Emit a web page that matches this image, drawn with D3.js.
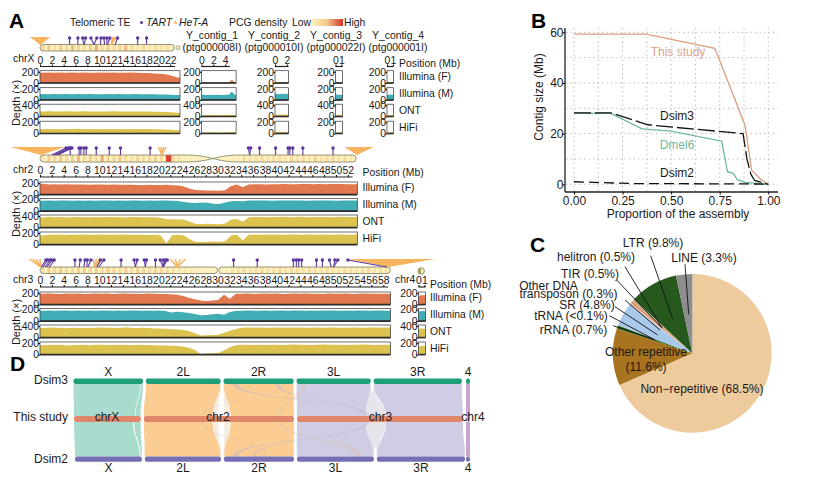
<!DOCTYPE html>
<html><head><meta charset="utf-8">
<script src="https://cdn.jsdelivr.net/npm/d3@7/dist/d3.min.js"></script>
<style>
html,body{margin:0;padding:0;background:#fff}
svg{display:block}
text{font-family:"Liberation Sans",Arial,sans-serif;fill:#1a1a1a}
.domain{stroke:#222}
</style></head><body><div id="c"></div>
<script>
// ---------- DATA ----------
const positionTicksX = d3.range(0, 23, 2);
const positionTicks2 = d3.range(0, 53, 2);
const positionTicks3 = d3.range(0, 59, 2);
const contigNames = ["Y_contig_1","Y_contig_2","Y_contig_3","Y_contig_4"];
const contigIds = ["(ptg000008I)","(ptg000010I)","(ptg000022I)","(ptg000001I)"];
const contigLengths = [5.85, 2.3, 1.2, 1.1];
const contigTicks = [[0,2,4],[0,2],[0,1],[0,1]];
const trackNames = ["Illumina (F)","Illumina (M)","ONT","HiFi"];

const xF = [185,188,184,186,183,187,184,186,185,182,186,184,187,183,185,186,184,181,178,172,165,158,135,100];
const xM = [106,104,107,105,106,104,107,105,106,104,105,107,104,106,105,104,106,103,104,102,100,98,95,88];
const xO = [180,184,178,182,186,180,178,184,182,179,183,180,186,178,181,183,180,178,176,172,170,165,150,135];
const xH = [78,82,80,76,81,79,83,77,80,82,78,81,79,80,77,82,79,78,80,76,75,72,66,60];

const c2F = [190,178,182,176,180,178,175,178,174,176,178,172,176,174,170,172,168,165,170,166,168,170,165,160,140,100,80,75,72,70,68,75,150,175,130,178,180,182,178,180,182,184,180,182,185,183,181,184,182,183,185,184,182,180];
const c2M = [180,184,181,186,183,180,184,182,185,181,183,186,182,184,180,183,185,181,184,182,186,183,180,178,160,145,140,150,145,130,125,150,170,178,170,184,186,183,185,182,186,184,187,183,185,182,186,184,183,185,182,186,184,183];
const c2O = [350,375,360,370,355,368,372,358,365,374,360,368,362,372,356,366,370,360,365,358,340,290,295,280,285,200,130,125,135,130,120,140,280,300,210,350,368,372,360,374,366,378,362,370,376,364,372,368,374,362,370,376,368,372];
const c2H = [160,178,170,175,168,176,172,178,170,174,176,170,178,172,175,170,174,172,168,170,165,20,165,170,160,90,50,45,50,52,48,60,160,175,70,172,178,174,176,172,178,174,176,178,172,176,178,174,176,172,178,176,174,176];

const c3F = [188,192,190,186,192,189,193,187,190,194,188,192,186,190,193,188,191,187,192,189,186,184,180,170,150,120,95,70,65,70,80,170,100,190,188,192,186,190,193,188,192,187,190,194,188,192,189,191,187,193,190,188,192,186,190,193,188,191,189,190];
const c3M = [180,184,181,186,183,180,184,182,185,181,183,186,182,184,180,183,185,181,184,182,183,176,150,165,155,140,125,100,105,120,130,110,160,178,182,186,183,180,185,182,186,184,181,183,186,182,185,180,184,186,183,181,185,182,186,184,181,185,183,182];
const c3O = [335,350,340,345,330,342,338,348,332,344,352,340,346,336,350,342,338,345,335,322,320,310,295,280,265,230,150,70,80,90,100,170,240,300,340,350,345,352,340,348,355,342,350,346,352,340,348,354,344,350,356,342,348,352,346,340,350,354,346,350];
const c3H = [165,172,168,170,160,168,166,172,164,170,174,166,172,168,170,165,172,168,166,164,160,158,155,150,135,120,80,10,20,25,30,70,130,165,170,174,168,172,166,174,170,168,172,176,170,174,168,172,176,170,174,172,168,174,170,176,172,168,174,172];

const c4F = [160,165,162]; const c4M = [172,175,170]; const c4O = [310,320,305]; const c4H = [150,155,148];
const y1F = [8,10,9,8,10,9,8,9,10,8,60,9]; const y1M = [95,90,88,92,90,94,88,90,92,95,150,92];
const y1O = [55,48,60,52,50,58,48,55,60,50,64,52]; const y1H = [22,24,20,26,22,24,20,22,26,24,30,22];
const y2F = [12,10,11,12,10]; const y2M = [110,105,112,108,110]; const y2O = [60,70,62,68,60]; const y2H = [24,30,26,28,24];
const y3F = [14,16,12]; const y3M = [100,95,90]; const y3O = [50,60,46]; const y3H = [18,22,20];
const y4F = [12,14,10]; const y4M = [95,100,92]; const y4O = [48,52,50]; const y4H = [16,20,18];

const densX = [.35,.5,.25,.45,.3,.55,.4,.3,.5,.6,.35,.45,.3,.4,.55,.3,.2,.35,.15,.3,.2,.25,.1,.05];
const dens2 = [.2,.45,.35,.5,.3,.4,.55,.35,.45,.3,.6,.4,.35,.5,.3,.25,.4,.3,.35,.4,.3,.95,.3,.2,.1,.05,0,0,0,0,0,0,.05,.1,.3,.2,.25,.35,.2,.3,.25,.2,.35,.25,.3,.2,.4,.25,.3,.35,.25,.3,.2,.15];
const dens3 = [.3,.45,.4,.5,.35,.3,.45,.5,.35,.4,.3,.45,.35,.3,.4,.3,.45,.35,.3,.4,.35,.3,.25,.2,.15,.1,.05,0,0,0,0,.05,.2,.25,.3,.2,.25,.3,.2,.25,.35,.2,.3,.25,.2,.3,.25,.2,.3,.25,.2,.3,.25,.2,.25,.3,.2,.25,.2,.1];

// TART: marker position (Mb) and genomic anchor (Mb)
const tartXMark = [5,6.4,7.2,7.7,8.6,9.6,10.3,10.8,11.3,11.8,13.1,16.5,18];
const tartXPos  = [5,6.4,7.4,7.5,9.1,9.1,10.2,10.9,11.3,11.4,12.7,16.5,18];
const tart2Mark = [4.4,4.8,5.1,5.4,5.1,6.6,6.9,7.4,7.8,9.5,11.7,13.6,18.6,35.2,35.6,37.1,39.8,41.9,42.2,42.7,44.4,49.5];
const tart2Pos  = [2,2.4,2.7,3.0,5.1,6.6,6.9,7.4,7.8,9.5,11.7,13.6,18.6,35.4,35.4,37.1,39.8,41.9,42.2,42.7,44.4,49.5];
const tart3Mark = [1,1.3,1.7,2,2.4,5.9,6.8,7.6,8,8.6,10.2,10.8,13.7,15.9,16.4,17.6,18,19.5,20.3,20.8,21.2,21.5,32.7,36.7,42.8,43.3,43.7,44.2,46.7,47.7,48.9,49.8,50.3,52];
const tart3Pos  = [.2,.5,.9,1.2,1.6,5.9,6.6,7.4,7.9,8.1,9.6,9.9,13.7,16.1,16.1,17.8,17.8,19.5,20.8,20.8,20.8,20.8,32.7,36.7,42.8,43.3,43.7,44.2,46.7,47.7,49.2,49.6,49.6,58.6];
// HeT-A fans: low marker, high marker, genomic anchor (Mb)
const hetaX = [[-1.7,1.7,.1],[12.3,12.9,12]];
const heta2 = [[-5,4.2,.2],[20,21.3,20.6],[51.4,56.4,53.5]];
const heta3 = [[-1.8,0,.1],[9,10.6,9.2],[22,24.6,23.2],[52,66.8,58.9]];

// B
const studyX = [0,.37,.725,.88,.914,.965,1]; const studyY = [59.3,59.3,53.7,23.4,5.6,1.7,0];
const dmelX = [0,.19,.35,.5,.76,.79,.82,.84,.88,1]; const dmelY = [28,28,21.9,21,17,5,4.3,1.8,.8,0];
const dsim3X = [0,.19,.38,.87,.89,.91,.93,1]; const dsim3Y = [28.2,28.2,23.5,20,10,4,1.5,0];
const dsim2X = [0,.3,1]; const dsim2Y = [1,.3,.1];

// C
const pieNames = ["Non\u2212repetitive","Other repetitive","rRNA","tRNA","SR","Other DNA transposon","TIR","helitron","LTR","LINE"];
const pieValues = [68.5,11.6,.7,.05,4.8,.3,.5,.5,9.8,3.3];
const pieColors = ["#eecb9c","#a8741f","#2f6a1f","#a9d78f","#a9c9ea","#f3c7a9","#d6906a","#c9ae8c","#27591f","#8d8d8d"];

// D : chromosome lengths (Mb)
const dsim3Names = ["X","2L","2R","3L","3R","4"]; const dsim3Len = [24.2,26,24.4,25.8,30.7,1.4];
const dsim2Names = ["X","2L","2R","3L","3R","4"]; const dsim2Len = [23.3,26.5,24.4,26.8,30.7,1.4];
const studyNames = ["chrX","chr2","chr3","chr4"]; const studyLen = [23.3,52.3,57.8,1.4];
// [study chr, start, end, ref chr, start, end]
const blocks3 = [[0,0,21.3,0,0,23.3],[0,21.5,23.2,0,23.5,24.2],[1,0,24,1,0,26],[1,30.2,52.3,2,0,24.4],[2,0,24,3,0,25.8],[2,31,57.8,4,0,30.7],[3,0,1.4,5,0,1.4]];
const blocks2 = [[0,0,20.6,0,0,22.6],[0,21,23.2,0,22.9,23.3],[1,0,24,1,0,26.5],[1,30.2,52.3,2,0,24.4],[2,0,24,3,0,26.8],[2,31,57.8,4,0,30.7],[3,0,1.4,5,0,1.4]];
const repeats3 = [[1,24,26,1,25.8,26],[1,28,30.2,2,0,.1],[2,24,31,3,25.7,25.8],[2,25,30,4,0,.2]];
const repeats2 = [[1,24,26,1,26.3,26.5],[1,28,30.2,2,0,.1],[2,24,31,3,26.6,26.8],[2,25,30,4,0,.2]];
const cross3 = [[2,24.4,25.4,2,3,5],[2,23.6,24.1,2,18,19.5],[1,47,48,3,2,3],[1,20,21,2,20,21]];
const cross2 = [[2,24.2,25.2,2,3,5],[2,23.4,24,2,10,11],[1,47,48.5,3,20,22.5],[1,20,21,2,14,15]];

// ---------- DRAW ----------
const svg = d3.select("#c").append("svg").attr("width",830).attr("height",490);
const PX = 5.92; // px per Mb in panel A
function txt(x,y,s,size,anchor,extra){
  const t = svg.append("text").attr("x",x).attr("y",y).attr("font-size",size).attr("text-anchor",anchor||"start").text(s);
  if(extra) extra(t);
  return t;
}
[["A",9,28],["B",531,28],["C",530,252],["D",10,371]].forEach(d=>txt(d[1],d[2],d[0],21,"start",t=>t.attr("font-weight","bold").style("fill","#000")));

// legend
const F = 10.4, purple = "#5b379c", hetaCol = "#f7b560";
txt(70,26,"Telomeric TE",F);
svg.append("circle").attr("cx",141.5).attr("cy",22.5).attr("r",1.5).attr("fill",purple);
txt(146,25.5,"TART",F,"start",t=>t.attr("font-style","italic"));
svg.append("path").attr("d",d3.symbol(d3.symbolTriangle,7)()).attr("transform","translate(175.5,22.5)").attr("fill",hetaCol);
txt(179,25.5,"HeT-A",F,"start",t=>t.attr("font-style","italic"));
txt(229,26,"PCG density",F); txt(292,25.5,"Low",F); txt(344,25.5,"High",F);
const densColor = d3.scaleLinear().domain([0,.5,1]).range(["#fdf2bf","#f4c98c","#d6342a"]);
const defs = svg.append("defs");
const lg = defs.append("linearGradient").attr("id","pcg");
[0,.5,1].forEach(o=>lg.append("stop").attr("offset",o).attr("stop-color",densColor(o)));
svg.append("rect").attr("x",311).attr("y",19).attr("width",32).attr("height",7).attr("fill","url(#pcg)");

const trackColors = ["#e2784f","#41aeb6","#dcc24e","#dcc24e"];
const trackMax = [220,220,440,220], trackTick = [[200,0],[200,0],[400,0],[200,0]];

function depthPanel(x0, len, ticks, tops, h, axisY, series, labelGap){
  const x = d3.scaleLinear().domain([0,len]).range([x0,x0+len*PX]);
  if(ticks){
    const g = svg.append("g").attr("transform",`translate(0,${axisY})`)
      .call(d3.axisTop(x).tickValues(ticks).tickSize(2).tickPadding(1).tickFormat(d3.format("d")));
    g.selectAll("text").attr("font-size",F).style("font-family",'"Liberation Sans"');
    g.select(".domain").attr("stroke-width",1.2).attr("d",`M${x0},0H${x0+Math.min(len,ticks[ticks.length-1]+.8)*PX}`);
  }
  tops.forEach((top,i)=>{
    const y = d3.scaleLinear().domain([0,trackMax[i]]).range([top+h,top]);
    const vals = series[i], step = len/vals.length;
    const pts = [[0,vals[0]]].concat(vals.map((v,j)=>[(j+.5)*step,v]),[[len,vals[vals.length-1]]]);
    svg.append("path").datum(pts).attr("fill",trackColors[i])
      .attr("d",d3.area().x(d=>x(d[0])).y0(top+h).y1(d=>y(d[1])));
    svg.append("rect").attr("x",x0).attr("y",top).attr("width",len*PX).attr("height",h).attr("fill","none").attr("stroke","#333").attr("stroke-width",.7);
    svg.append("line").attr("x1",x0).attr("x2",x0+len*PX).attr("y1",top+h).attr("y2",top+h).attr("stroke","#2b2b2b").attr("stroke-width",1.6);
    const a = svg.append("g").attr("transform",`translate(${x0},0)`)
      .call(d3.axisLeft(y).tickValues(trackTick[i]).tickSize(2).tickPadding(labelGap).tickFormat(d3.format("d")));
    a.select(".domain").remove();
    a.selectAll("text").attr("font-size",F).style("font-family",'"Liberation Sans"');
  });
  return x;
}
const rowsX=[70.7,87.7,104.2,121.2], rows2=[182,198.5,215,232], rows3=[292,308.5,325,342];
const xX = depthPanel(40,23.65,positionTicksX,rowsX,12.3,66.5,[xF,xM,xO,xH],-1);
const x2 = depthPanel(40,53.6,positionTicks2,rows2,12.6,177,[c2F,c2M,c2O,c2H],-1);
const x3 = depthPanel(40,59.2,positionTicks3,rows3,12.6,287,[c3F,c3M,c3O,c3H],-1);
const x4 = depthPanel(418.5,1.2,[0,1],rows3,12.6,287,[c4F,c4M,c4O,c4H],-1);
const contigX = [201.5,275,335.5,387];
const contigSeries=[[y1F,y1M,y1O,y1H],[y2F,y2M,y2O,y2H],[y3F,y3M,y3O,y3H],[y4F,y4M,y4O,y4H]];
const contigCentre=[212,274,336,398];
contigNames.forEach((n,i)=>{
  depthPanel(contigX[i],contigLengths[i],contigTicks[i],rowsX,12.3,66.5,contigSeries[i],-1);
  txt(contigCentre[i],39,n,F,"middle");
  txt(contigCentre[i],51,contigIds[i],F,"middle");
});
function sideLabels(x,ys){ ["Position (Mb)"].concat(trackNames).forEach((s,i)=>txt(x,ys[i],s,F)); }
sideLabels(399,[67,80,97,114,131]);
sideLabels(362.5,[176,191,208,225,242]);
sideLabels(430,[288,301,318,335,352]);
txt(13,62,"chrX",F); txt(13,173,"chr2",F); txt(13,283,"chr3",F); txt(395,283,"chr4",F);
[[20,103],[20,214],[20,322]].forEach(p=>svg.append("text").attr("transform",`translate(${p[0]},${p[1]}) rotate(-90)`).attr("text-anchor","middle").attr("font-size",F+.6).text("Depth (\u00d7)"));

// ideograms
function rr(x0,x1,t,b){const r=(b-t)/2;return `M${x0+r},${t}H${x1-r}A${r},${r} 0 0 1 ${x1-r},${b}H${x0+r}A${r},${r} 0 0 1 ${x0+r},${t}Z`;}
function ideo(id,d,x,dens,t,b){
  defs.append("clipPath").attr("id",id).append("path").attr("d",d);
  const g = svg.append("g");
  g.append("path").attr("d",d).attr("fill","#fdf2bf");
  g.append("g").attr("clip-path",`url(#${id})`).selectAll("rect").data(dens).join("rect")
    .attr("x",(v,i)=>x(i+.25)).attr("width",(v,i)=>Math.max(1.5,(x(1)-x(0))*(v>.8?.95:.5))).attr("y",t).attr("height",b-t).attr("fill",v=>densColor(v));
  g.append("path").attr("d",d).attr("fill","none").attr("stroke","#8c8a6c").attr("stroke-width",.9);
}
ideo("ix",rr(xX(0),xX(22.7),44.5,51),xX,densX,44.5,51);
svg.append("circle").attr("cx",xX(23.3)).attr("cy",47.7).attr("r",1.9).attr("fill","#fdf2bf").attr("stroke","#8c8a6c").attr("stroke-width",.8);
// chr2 with crossing centromere
(function(){
  const t=155,b=162,a0=x2(24.5),a1=x2(33.9),L=x2(0),R=x2(53.4),r=3.5,m=(a0+a1)/2;
  const d=`M${L+r},${t}H${a0}C${m},${t} ${m},${b} ${a1},${b}H${R-r}A${r},${r} 0 0 0 ${R-r},${t}H${a1}C${m},${t} ${m},${b} ${a0},${b}H${L+r}A${r},${r} 0 0 1 ${L+r},${t}Z`;
  ideo("i2",d,x2,dens2,t,b);
})();
ideo("i3",rr(x3(0),x3(30),267,273.5)+rr(x3(30.2),x3(59.2),267,273.5),x3,dens3,267,273.5);
svg.append("circle").attr("cx",x4(.45)).attr("cy",271).attr("r",3.2).attr("fill","#fdf2bf").attr("stroke","#8c8a6c");
svg.append("path").attr("d",d3.arc()({innerRadius:0,outerRadius:3,startAngle:Math.PI,endAngle:2*Math.PI})).attr("transform",`translate(${x4(.45)},271)`).attr("fill","#a9a35a");

function fans(x,arr,top,my){
  arr.forEach(f=>{
    if(f[1]-f[0]>=3){
      svg.append("path").attr("d",`M${x(f[0])},${my-1}L${x(f[1])},${my-1}L${x(f[2])},${top}Z`).attr("fill",hetaCol);
    } else {
      d3.range(f[0],f[1]+.01,(f[1]-f[0])/3).forEach(m=>svg.append("line").attr("x1",x(m)).attr("x2",x(f[2])).attr("y1",my-1).attr("y2",top).attr("stroke",hetaCol).attr("stroke-width",1.5));
    }
  });
}
function pins(x,mark,pos,top,my){
  const g=svg.append("g");
  mark.forEach((m,i)=>{
    g.append("line").attr("x1",x(m)).attr("x2",x(pos[i])).attr("y1",my).attr("y2",top).attr("stroke",purple).attr("stroke-width",1.1);
    g.append("circle").attr("cx",x(m)).attr("cy",my).attr("r",1.7).attr("fill",purple);
  });
}
fans(xX,hetaX,45,38); pins(xX,tartXMark,tartXPos,44.5,38);
fans(x2,heta2,155,148); pins(x2,tart2Mark,tart2Pos,155,148);
fans(x3,heta3,267,260); pins(x3,tart3Mark,tart3Pos,267,260);

// ---------- B ----------
const bx = d3.scaleLinear().domain([0,1]).range([574,768.3]);
const by = d3.scaleLinear().domain([0,60]).range([184.3,32.3]);
const gg = svg.append("g").attr("stroke","#b5b5b5").attr("stroke-dasharray","1.3 3.2").attr("stroke-width",1);
d3.range(0,1.01,.125).forEach(v=>gg.append("line").attr("x1",bx(v)).attr("x2",bx(v)).attr("y1",28).attr("y2",191));
d3.range(0,61,10).forEach(v=>gg.append("line").attr("y1",by(v)).attr("y2",by(v)).attr("x1",566).attr("x2",778));
const axb = svg.append("g").attr("transform","translate(0,192)").call(d3.axisBottom(bx).tickValues([0,.25,.5,.75,1]).tickSize(2.5).tickPadding(2).tickFormat(d3.format(".2f")));
axb.select(".domain").attr("d","M565,0H778").attr("stroke-width",1.3);
const ayb = svg.append("g").attr("transform","translate(565,0)").call(d3.axisLeft(by).tickValues([0,20,40,60]).tickSize(2.5).tickPadding(-1).tickFormat(d3.format("d")));
ayb.select(".domain").attr("d","M0,28V192").attr("stroke-width",1.3);
[axb,ayb].forEach(a=>a.selectAll("text").attr("font-size",12).style("font-family",'"Liberation Sans"'));
txt(678,218,"Proportion of the assembly",12,"middle");
svg.append("text").attr("transform","translate(543,97) rotate(-90)").attr("text-anchor","middle").attr("font-size",12).text("Contig size (Mb)");
const ln = d3.line().x(d=>bx(d[0])).y(d=>by(d[1]));
function bline(X,Y,col,dash){svg.append("path").datum(X.map((v,i)=>[v,Y[i]])).attr("d",ln).attr("fill","none").attr("stroke",col).attr("stroke-width",1.3).attr("stroke-dasharray",dash||null);}
bline(studyX,studyY,"#dd9e7f"); bline(dmelX,dmelY,"#6fb89f");
bline(dsim3X,dsim3Y,"#111","17 4"); bline(dsim2X,dsim2Y,"#111","10 5");
txt(678,56,"This study",12,"middle",t=>t.style("fill","#d8a58a"));
txt(677,120,"Dsim3",12,"middle");
txt(677,149,"Dmel6",12,"middle",t=>t.style("fill","#6fb89f"));
txt(677,177,"Dsim2",12,"middle");

// ---------- C ----------
const pc = svg.append("g").attr("transform","translate(692.3,353.3)");
const arcs = d3.pie().sort(null)(pieValues);
pc.selectAll("path").data(arcs).join("path").attr("d",d3.arc().innerRadius(0).outerRadius(79.4)).attr("fill",(d,i)=>pieColors[i]);
const pieLines = [[650.7,255.7,672.7,319],[685,264.3,688.7,314.3],[625,266.7,662.3,328.3],[616.7,280,661.7,327.7],[625,300,660,330],[615,306.7,657.7,335],[609.3,315.7,655,340],[613.3,325.7,655,340]];
pieLines.forEach(l=>svg.append("line").attr("x1",l[0]).attr("y1",l[1]).attr("x2",l[2]).attr("y2",l[3]).attr("stroke","#111").attr("stroke-width",.9));
const pieLabels = [["LTR (9.8%)",653,247],["LINE (3.3%)",704,262],["helitron (0.5%)",596,261],["TIR (0.5%)",590,278],["Other DNA",548.5,290],["transposon (0.3%)",568.5,297.5],["SR (4.8%)",587,309],["tRNA (<0.1%)",571,320],["rRNA (0.7%)",573.5,334],["Other repetitive",646,356],["(11.6%)",646,371],["Non\u2212repetitive (68.5%)",702,393]];
pieLabels.forEach(l=>txt(l[1],l[2],l[0],12,"middle"));

// ---------- D ----------
const dScale = d3.scaleLinear().domain([0,1]).range([0,2.87]);
function layout(lens,start){let p=start;return lens.map(l=>{const s=p;p+=dScale(l)+3;return s;});}
const s3 = layout(dsim3Len,73.5), s2 = layout(dsim2Len,75), sS = layout(studyLen,74);
s3[5]=s2[5]=sS[3]=466;
const yT=[384,416], yB=[422,456.5];
function ribbon(b,refStart,y0,y1,reverse){
  const a0=sS[b[0]]+dScale(b[1]),a1=sS[b[0]]+dScale(b[2]),r0=refStart[b[3]]+dScale(b[4]),r1=refStart[b[3]]+dScale(b[5]);
  const m=(y0+y1)/2;
  const top0 = reverse? a0 : r0, top1 = reverse? a1 : r1, bot0 = reverse? r0 : a0, bot1 = reverse? r1 : a1;
  return `M${top0},${y0}L${top1},${y0}C${top1},${m} ${bot1},${m} ${bot1},${y1}L${bot0},${y1}C${bot0},${m} ${top0},${m} ${top0},${y0}Z`;
}
const chromFill=["#a9dccf","#fbcd93","#cfcde4","#c9a5cf"];
blocks3.forEach(b=>svg.append("path").attr("d",ribbon(b,s3,yT[0],yT[1],false)).attr("fill",chromFill[b[0]]));
blocks2.forEach(b=>svg.append("path").attr("d",ribbon(b,s2,yB[0],yB[1],true)).attr("fill",chromFill[b[0]]));
repeats3.forEach(b=>svg.append("path").attr("d",ribbon(b,s3,yT[0],yT[1],false)).attr("fill",b[0]==2?"#e6e5ec":"#f5ede2"));
repeats2.forEach(b=>svg.append("path").attr("d",ribbon(b,s2,yB[0],yB[1],true)).attr("fill",b[0]==2?"#e6e5ec":"#f5ede2"));
const crossCol = b=> b[0]==2?"#b3b2d6":"#dcc0a8";
cross3.forEach(b=>svg.append("path").attr("d",ribbon(b,s3,yT[0],yT[1],false)).attr("fill",crossCol(b)).attr("opacity",.4));
cross2.forEach(b=>svg.append("path").attr("d",ribbon(b,s2,yB[0],yB[1],true)).attr("fill",crossCol(b)).attr("opacity",.4));
function bars(starts,lens,y,h,col){starts.forEach((s,i)=>svg.append("rect").attr("x",s).attr("y",y).attr("width",dScale(lens[i])).attr("height",h).attr("rx",2).attr("fill",Array.isArray(col)?col[i]:col));}
bars(s3,dsim3Len,378.5,5.5,"#1f9e77");
bars(sS,studyLen,416,6,["#e0866b","#e0866b","#e0866b","#c9a5cf"]);
bars(s2,dsim2Len,456.5,5.2,"#7570b3");
dsim3Names.forEach((n,i)=>txt(s3[i]+dScale(dsim3Len[i])/2,376,n,12,"middle"));
dsim2Names.forEach((n,i)=>txt(s2[i]+dScale(dsim2Len[i])/2,472,n,12,"middle"));
txt(107,421,studyNames[0],12,"middle"); txt(218,421,studyNames[1],12,"middle"); txt(380.5,421,studyNames[2],12,"middle"); txt(473,421,studyNames[3],12,"middle");
txt(68,384,"Dsim3",12,"end"); txt(68,421,"This study",12,"end"); txt(68,463,"Dsim2",12,"end");
</script></body></html>
